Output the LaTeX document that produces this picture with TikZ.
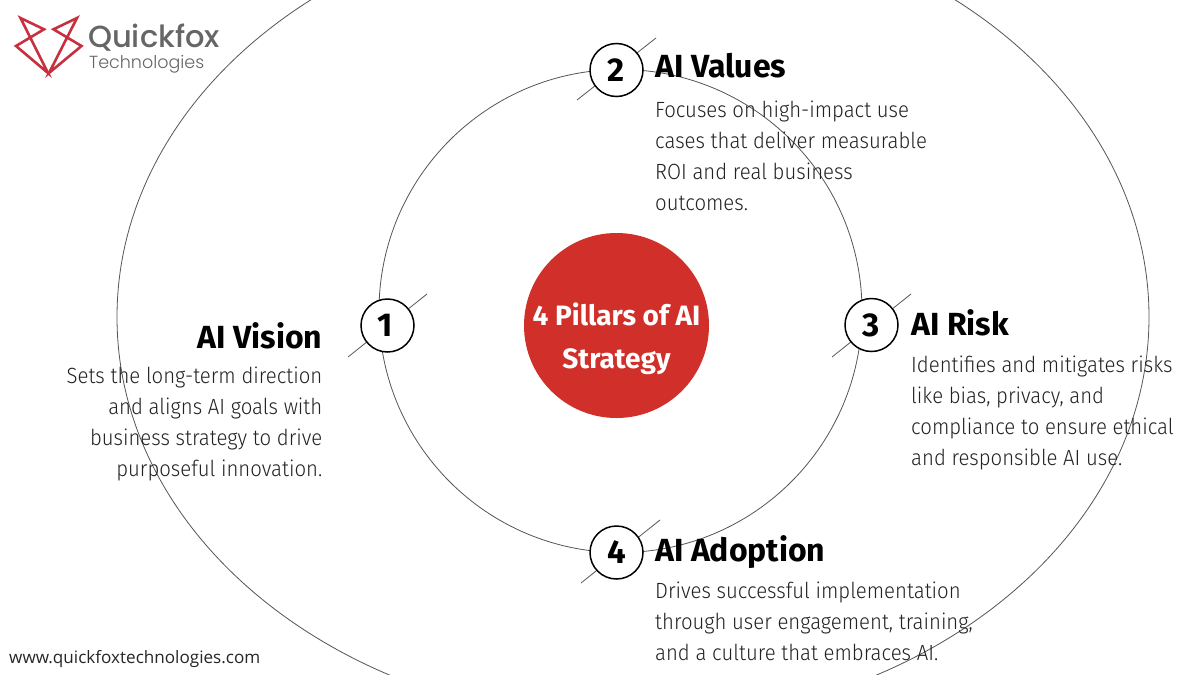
\documentclass[tikz,border=0pt]{standalone}
\usepackage{fontspec}
\setmainfont{Fira Sans}
\newfontfamily\bodyf[FakeStretch=0.925]{Fira Sans Light}
\newfontfamily\headf[FakeStretch=1.0,BoldFont={Fira Sans Bold}]{Fira Sans}
\newfontfamily\logof{Poppins Medium}
\newfontfamily\logol{Poppins Light}
\newfontfamily\webf{Open Sans}
\definecolor{pillred}{HTML}{D02F2A}
\definecolor{logored}{HTML}{C8303F}
\definecolor{ring}{HTML}{555555}
\definecolor{bodyc}{HTML}{222222}
\definecolor{logogrey}{HTML}{666666}
\tikzset{
  ringline/.style={draw=ring,line width=0.8pt},
  tick/.style={draw=ring,line width=0.8pt},
  numdot/.style={circle,draw=black,fill=white,line width=1.5pt,minimum size=53pt,inner sep=0pt,font=\headf\bfseries\fontsize{33}{33}\selectfont},
  heading/.style={inner sep=0pt,font=\headf\bfseries\fontsize{32}{32}\selectfont},
  para/.style={inner sep=0pt,text=bodyc,font=\bodyf\fontsize{22}{31}\selectfont},
  foxline/.style={draw=logored,line width=2.6pt,line join=miter},
}
\begin{document}
\begin{tikzpicture}[x=1pt,y=-1pt]
\useasboundingbox (0,0) rectangle (1200,675);
\fill[white] (0,0) rectangle (1200,675);
% rings
\begin{scope}
\clip (0,0) rectangle (1200,675);
\draw[ringline] (633,317) ellipse [x radius=516,y radius=406];
\draw[ringline] (620.5,311) circle [radius=241.5];
\end{scope}
% ticks
\coordinate (t1a) at (427,294); \coordinate (t1b) at (348,357);
\coordinate (t2a) at (656,38);  \coordinate (t2b) at (577,100);
\coordinate (t3a) at (911,294); \coordinate (t3b) at (832,357);
\coordinate (t4a) at (660,520); \coordinate (t4b) at (581,583);
\draw[tick] (t1a) -- (t1b);
\draw[tick] (t2a) -- (t2b);
\draw[tick] (t3a) -- (t3b);
\draw[tick] (t4a) -- (t4b);
% number dots
\node[numdot] (n1) at (387.5,325.5) {\hspace{-4pt}1};
\node[numdot] (n2) at (616.5,70) {2};
\node[numdot] (n3) at (871.5,325) {3};
\node[numdot] (n4) at (616.5,552.5) {4};
% centre
\node[circle,fill=pillred,minimum size=185pt,inner sep=0pt] (hub) at (616.5,325.5) {};
\node[inner sep=0pt,anchor=base,text=white,font=\headf\bfseries\fontsize{28}{28}\selectfont] (hubt1) at (616.5,325) {4 Pillars of AI};
\node[inner sep=0pt,anchor=base,text=white,font=\headf\bfseries\fontsize{28}{28}\selectfont] (hubt2) at (616.5,368) {Strategy};
% headings
\node[heading,anchor=base east] (h1) at (322.5,348.5) {AI Vision};
\node[heading,anchor=base west] (h2) at (655,77.5) {AI Values};
\node[heading,anchor=base west] (h3) at (911,335) {AI Risk};
\node[heading,anchor=base west] (h4) at (655,561.5) {AI Adoption};
% paragraphs
\node[para,anchor=base east,align=right] (p1) at (322.5,476) {Sets the long-term direction\\and aligns AI goals with\\business strategy to drive\\purposeful innovation.};
\node[para,anchor=base west,align=left] (p2) at (655,210) {Focuses on high-impact use\\cases that deliver measurable\\ROI and real business\\outcomes.};
\node[para,anchor=base west,align=left] (p3) at (911,465.5) {Identifies and mitigates risks\\like bias, privacy, and\\compliance to ensure ethical\\and responsible AI use.};
\node[para,anchor=base west,align=left] (p4) at (655,660) {Drives successful implementation\\through user engagement, training,\\and a culture that embraces AI.};
% logo
\coordinate (fa) at (20.5,18); \coordinate (fb) at (44,29.3); \coordinate (fc) at (16,46); \coordinate (fd) at (48,73);
\coordinate (ga) at (77,18); \coordinate (gb) at (53.5,29.3); \coordinate (gc) at (81.5,46); \coordinate (gd) at (49,73);
\draw[foxline] (fd) -- (fc) -- (fb) -- (fa) -- cycle;
\draw[foxline] (gd) -- (gc) -- (gb) -- (ga) -- cycle;
\node[inner sep=0pt,anchor=base west,text=logogrey,font=\logof\fontsize{30.5}{30}\selectfont] (lg1) at (88,47) {Quickfox};
\node[inner sep=0pt,anchor=base west,text=logogrey,font=\logol\fontsize{17.5}{18}\selectfont] (lg2) at (89,68) {Technologies};
\node[inner sep=0pt,anchor=base west,text=black!85,font=\webf\fontsize{17.1}{17}\selectfont] (web) at (9,663) {www.quickfoxtechnologies.com};
\end{tikzpicture}
\end{document}
